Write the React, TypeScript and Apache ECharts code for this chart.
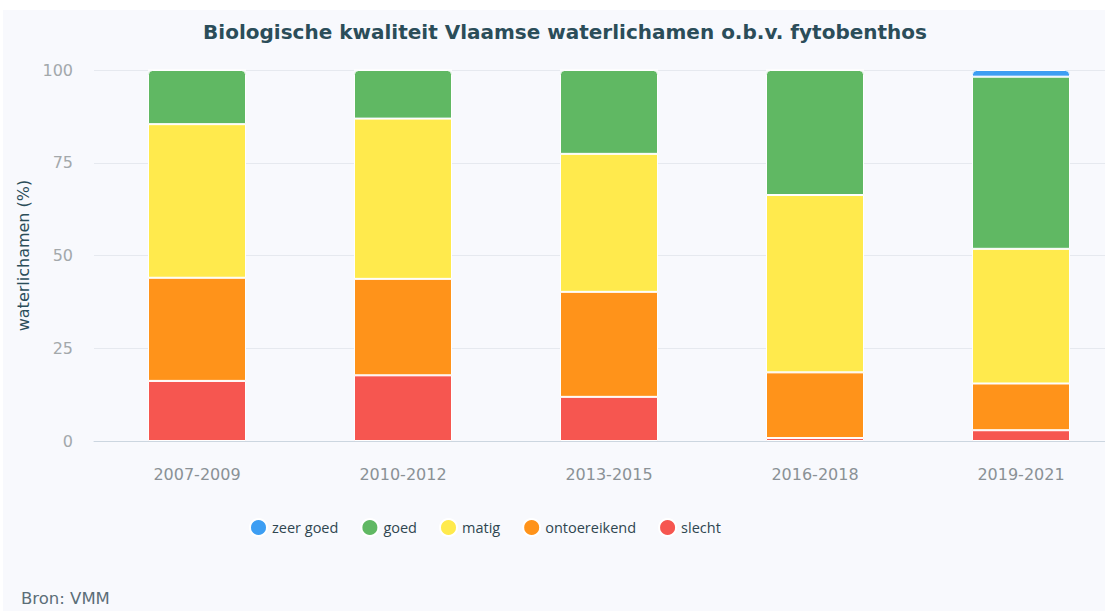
import React, { useEffect, useRef } from "react";
import * as echarts from "echarts";

const categories = ["2007-2009", "2010-2012", "2013-2015", "2016-2018", "2019-2021"];
const seriesNames = ["slecht", "ontoereikend", "matig", "goed", "zeer goed"];
const slecht = [16.2, 17.7, 11.9, 0.8, 2.9];
const ontoereikend = [27.8, 26.0, 28.3, 17.7, 12.6];
const matig = [41.4, 43.2, 37.2, 47.8, 36.3];
const goed = [14.6, 13.1, 22.6, 33.7, 46.4];
const zeerGoed = [0, 0, 0, 0, 1.8];
const legendOrder = ["zeer goed", "goed", "matig", "ontoereikend", "slecht"];
const yTicks = [0, 25, 50, 75, 100];

const colors: Record<string, string> = {
  "zeer goed": "#3d9ef3",
  goed: "#60b863",
  matig: "#ffea4d",
  ontoereikend: "#ff931a",
  slecht: "#f65650",
};

export default function App() {
  const ref = useRef<HTMLDivElement>(null);
  useEffect(() => {
    if (!ref.current) return;
    const chart = echarts.init(ref.current, undefined, { renderer: "svg" });
    const values = [slecht, ontoereikend, matig, goed, zeerGoed];
    const topIdx = categories.map((_, c) => {
      let t = 0;
      values.forEach((v, s) => {
        if (v[c] > 0) t = s;
      });
      return t;
    });
    const series = seriesNames.map((name, s) => ({
      name,
      type: "bar",
      stack: "total",
      barWidth: 98,
      itemStyle: { color: colors[name], borderColor: "#ffffff", borderWidth: 1 },
      data: values[s].map((v, c) => ({
        value: v,
        itemStyle: topIdx[c] === s ? { borderRadius: [4, 4, 0, 0] } : undefined,
      })),
    }));
    chart.setOption({
      animation: false,
      backgroundColor: "#ffffff",
      graphic: [
        {
          type: "rect",
          shape: { x: 3, y: 10, width: 1130, height: 610 },
          style: { fill: "#f8f9fd" },
          z: -10,
          silent: true,
        },
        {
          type: "text",
          left: 21,
          top: 590,
          style: { text: "Bron: VMM", fill: "#5b6e78", font: "16.5px 'DejaVu Sans', sans-serif" },
        },
      ],
      title: {
        text: "Biologische kwaliteit Vlaamse waterlichamen o.b.v. fytobenthos",
        left: 560,
        textAlign: "center",
        top: 17,
        textStyle: {
          fontFamily: "'DejaVu Sans', sans-serif",
          fontSize: 20,
          fontWeight: "bold",
          color: "#2b4d59",
        },
      },
      legend: {
        data: legendOrder,
        left: 244,
        top: 513,
        icon: "circle",
        itemWidth: 17,
        itemHeight: 17,
        itemGap: 22,
        textStyle: { fontFamily: "'Open Sans', sans-serif", fontSize: 14.5, color: "#2f4650" },
      },
      grid: { left: 94, right: 1, top: 70, bottom: 170, containLabel: false },
      xAxis: {
        type: "category",
        data: categories,
        axisLine: { lineStyle: { color: "#ccd6e0" } },
        axisTick: { show: false },
        axisLabel: {
          fontFamily: "'DejaVu Sans', sans-serif",
          fontSize: 16,
          color: "#8a9196",
          margin: 25,
        },
      },
      yAxis: {
        type: "value",
        min: 0,
        max: 100,
        interval: 25,
        name: "waterlichamen (%)",
        nameLocation: "middle",
        nameGap: 62,
        nameTextStyle: { fontFamily: "'DejaVu Sans', sans-serif", fontSize: 16, color: "#2b4d59" },
        axisLabel: {
          fontFamily: "'DejaVu Sans', sans-serif",
          fontSize: 16,
          color: "#a3a8ab",
          margin: 21,
          formatter: (v: number) => (yTicks.includes(v) ? String(v) : ""),
        },
        splitLine: { lineStyle: { color: "#e6e9ef" } },
      },
      series,
    });
    return () => chart.dispose();
  }, []);
  return (
    <div style={{ position: "fixed", left: 0, top: 0, width: 1105, height: 611, overflow: "hidden" }}>
      <div ref={ref} style={{ position: "absolute", left: 0, top: 0, width: 1125, height: 611 }} />
    </div>
  );
}
